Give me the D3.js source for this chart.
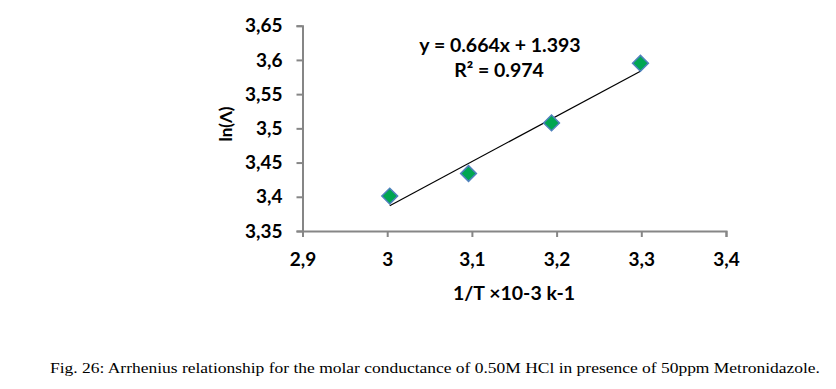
<!DOCTYPE html>
<html>
<head>
<meta charset="utf-8">
<script src="https://cdn.jsdelivr.net/npm/d3@7"></script>
<style>
  body { margin: 0; background: #fff; }
</style>
</head>
<body>
<div id="chart"></div>
<script>
// data
const invT = [3.003, 3.096, 3.194, 3.299];
const lnLambda = [3.401, 3.434, 3.508, 3.595];
const xTicks = [2.9, 3.0, 3.1, 3.2, 3.3, 3.4];
const yTicks = [3.35, 3.4, 3.45, 3.5, 3.55, 3.6, 3.65];
const slope = 0.664, intercept = 1.393;

const W = 836, H = 389;
const font = "Lato, 'Open Sans', sans-serif";
const svg = d3.select("#chart").append("svg")
    .attr("width", W).attr("height", H);

const x = d3.scaleLinear().domain([2.9, 3.4]).range([302.5, 726]);
const y = d3.scaleLinear().domain([3.35, 3.65]).range([231, 25.7]);

const fmt = d => String(+d.toFixed(2)).replace(".", ",");

// axes
const xAxis = svg.append("g")
    .attr("transform", `translate(0,${y(3.35)})`)
    .call(d3.axisBottom(x).tickValues(xTicks).tickSize(6).tickPadding(16).tickFormat(fmt));
const yAxis = svg.append("g")
    .attr("transform", `translate(${x(2.9)},0)`)
    .call(d3.axisLeft(y).tickValues(yTicks).tickSize(6).tickPadding(14).tickFormat(fmt));

[xAxis, yAxis].forEach(g => {
    g.attr("font-family", font).attr("font-size", 19).attr("font-weight", "bold");
    g.selectAll(".tick text").attr("fill", "#000");
    g.select(".domain").attr("stroke", "#868686").attr("stroke-width", 2);
    g.selectAll(".tick line").attr("stroke", "#868686").attr("stroke-width", 2);
});

// trend line
const x0 = d3.min(invT), x1 = d3.max(invT);
svg.append("line")
    .attr("x1", x(x0)).attr("y1", y(slope * x0 + intercept))
    .attr("x2", x(x1)).attr("y2", y(slope * x1 + intercept))
    .attr("stroke", "#000").attr("stroke-width", 1.2);

// markers
svg.selectAll("path.pt")
    .data(invT.map((v, i) => [v, lnLambda[i]]))
    .enter().append("path")
    .attr("class", "pt")
    .attr("d", d3.symbol().type(d3.symbolSquare).size(125))
    .attr("transform", d => `translate(${x(d[0])},${y(d[1])}) rotate(45)`)
    .attr("fill", "#00a651")
    .attr("stroke", "#4f81bd")
    .attr("stroke-width", 1.5);

// equation
const eq = svg.append("text")
    .attr("font-family", font)
    .attr("font-weight", "bold")
    .attr("font-size", 19.5)
    .attr("text-anchor", "middle");
eq.append("tspan").attr("x", 500).attr("y", 52).text(`y = ${slope}x + ${intercept}`);
eq.append("tspan").attr("x", 499).attr("y", 77).text("R² = 0.974");

// axis titles
svg.append("text")
    .attr("transform", "translate(232,124) rotate(-90)")
    .attr("text-anchor", "middle")
    .attr("font-family", font)
    .attr("font-weight", "bold")
    .attr("font-size", 17)
    .text("ln(Λ)");

svg.append("text")
    .attr("x", 514).attr("y", 300)
    .attr("text-anchor", "middle")
    .attr("font-family", font)
    .attr("font-weight", "bold")
    .attr("font-size", 19.5)
    .text("1/T ×10-3 k-1");

// caption
svg.append("text")
    .attr("x", 50).attr("y", 373)
    .attr("font-family", "Liberation Serif, serif")
    .attr("font-size", 14.5)
    .attr("textLength", 770)
    .attr("lengthAdjust", "spacingAndGlyphs")
    .text("Fig. 26: Arrhenius relationship for the molar conductance of 0.50M HCl in presence of 50ppm Metronidazole.");
</script>
</body>
</html>
